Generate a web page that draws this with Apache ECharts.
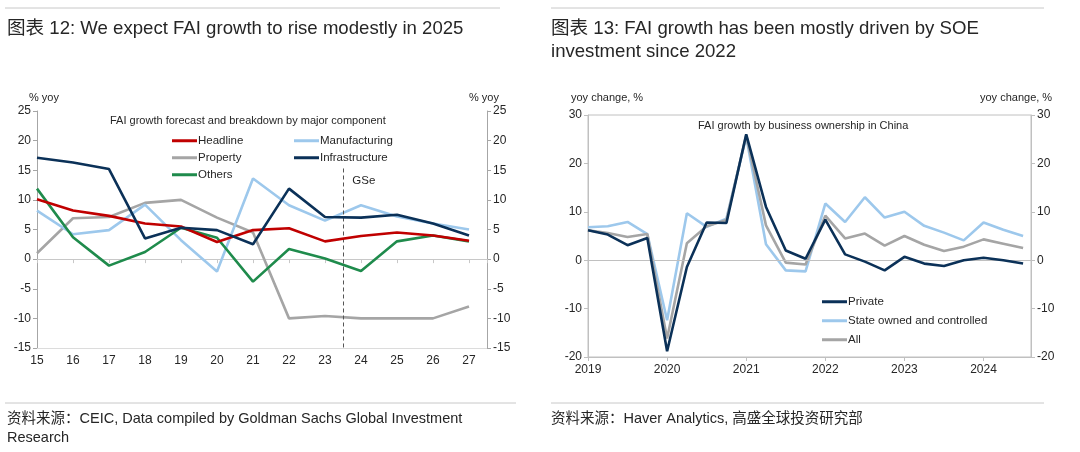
<!DOCTYPE html>
<html><head><meta charset="utf-8">
<script src="https://cdn.jsdelivr.net/npm/echarts@6/dist/echarts.min.js"></script>
<style>html,body{margin:0;padding:0;background:#fff}#c{width:1080px;height:452px}</style>
</head><body><div id="c"></div>
<script>
// ---- Left chart data (annual, 2015-2027, GSe from 2024) ----
const leftYears = [15,16,17,18,19,20,21,22,23,24,25,26,27];
const headline       = [10.1, 8.2, 7.3, 6.0, 5.5, 2.9, 4.9, 5.2, 3.0, 3.9, 4.5, 4.0, 3.1];
const manufacturing  = [8.2, 4.2, 4.9, 9.2, 3.2, -2.1, 13.6, 9.1, 6.5, 9.1, 7.2, 6.0, 5.0];
const property       = [1.0, 6.9, 7.1, 9.5, 10.0, 7.0, 4.5, -10.0, -9.6, -10.0, -10.0, -10.0, -8.0];
const infrastructure = [17.1, 16.3, 15.2, 3.5, 5.3, 4.9, 2.5, 11.9, 7.1, 7.0, 7.5, 6.0, 4.0];
const others         = [11.9, 3.7, -1.1, 1.2, 5.3, 3.6, -3.8, 1.7, 0.1, -2.0, 3.0, 4.0, 3.0];
const forecastStart = 23.5;

// ---- Right chart data (quarterly, 2019Q1 - 2024Q3) ----
const quarterIndex = Array.from({length: 23}, (_, i) => i); // 0 = 2019Q1
const privateInv = [6.2, 5.3, 3.1, 4.6, -18.8, -1.4, 7.8, 7.7, 26.0, 11.0, 2.0, 0.3, 8.4, 1.2, -0.3, -2.1, 0.7, -0.7, -1.2, 0.0, 0.5, 0.0, -0.7];
const stateInv   = [6.8, 7.0, 7.9, 5.4, -12.4, 9.7, 6.9, 8.6, 25.5, 3.3, -2.1, -2.3, 11.7, 7.9, 13.0, 8.8, 10.0, 7.1, 5.7, 4.1, 7.8, 6.3, 5.0];
const allInv     = [6.2, 5.6, 4.8, 5.4, -16.2, 3.5, 7.0, 8.3, 25.8, 7.2, -0.5, -0.9, 9.2, 4.5, 5.5, 3.0, 5.0, 3.2, 1.9, 2.8, 4.3, 3.4, 2.5];
const firstYear = 2019;

const pair = (xs, ys) => xs.map((x, i) => [x, ys[i]]);

const FONT = 'Liberation Sans, Arial, "Noto Sans CJK SC", sans-serif';
const TXT = '#262626';
const AX = '#a6a6a6';
const C = {red:'#c00000', lblue:'#9dc8ec', gray:'#a5a5a5', navy:'#0b3158', green:'#1f8b4c'};

const chart = echarts.init(document.getElementById('c'));

function txt(x, y, s, size, extra) {
  return Object.assign({type:'text', left:x, top:y, style:{text:s, fill:TXT, font: size + 'px ' + FONT}}, extra || {});
}
function hline(x1, x2, y) {
  return {type:'line', shape:{x1:x1, y1:y, x2:x2, y2:y}, style:{stroke:'#c8c8c8', lineWidth:1}};
}

const lineSeries = (name, data, color, xi, yi, z) => ({
  name, type:'line', data, xAxisIndex:xi, yAxisIndex:yi, symbol:'none',
  lineStyle:{color, width:2.6}, itemStyle:{color}, z: z || 2, animation:false
});

const legendText = {fontSize:11.5, color:TXT, padding:[0,0,0,-4]};

chart.setOption({
  animation:false,
  textStyle:{fontFamily:FONT},
  graphic:[
    hline(5, 500, 8), hline(551, 1044, 8),
    txt(7, 20, '图表 12: We expect FAI growth to rise modestly in 2025', 18.6),
    txt(551, 20, '图表 13: FAI growth has been mostly driven by SOE', 18.6),
    txt(551, 43, 'investment since 2022', 18.6),
    txt(29, 92, '% yoy', 11), txt(469, 92, '% yoy', 11),
    txt(571, 92, 'yoy change, %', 11), txt(980, 92, 'yoy change, %', 11),
    txt(110, 115, 'FAI growth forecast and breakdown by major component', 11),
    txt(698, 120, 'FAI growth by business ownership in China', 11),
    hline(5, 516, 403), hline(551, 1044, 403),
    txt(7, 412, '资料来源：CEIC, Data compiled by Goldman Sachs Global Investment', 14.5),
    txt(7, 431, 'Research', 14.5),
    txt(551, 412, '资料来源：Haver Analytics, 高盛全球投资研究部', 14.5)
  ],
  legend:[
    {data:['Headline','Property','Others'], orient:'vertical', left:167, top:130, itemGap:5.5,
     icon:'rect', itemWidth:25, itemHeight:3, textStyle:legendText},
    {data:['Manufacturing','Infrastructure'], orient:'vertical', left:289, top:130, itemGap:5.5,
     icon:'rect', itemWidth:25, itemHeight:3, textStyle:legendText},
    {data:['Private','State owned and controlled','All'], orient:'vertical', left:817, top:291, itemGap:7.5,
     icon:'rect', itemWidth:25, itemHeight:3, textStyle:legendText}
  ],
  grid:[
    {left:37, right:593, top:111, bottom:104},
    {left:588, right:49, top:115, bottom:95, show:true, borderColor:'#c0c0c0', borderWidth:1}
  ],
  xAxis:[
    {type:'value', gridIndex:0, min:15, max:27.5, interval:1, position:'bottom',
     axisLine:{show:true, onZero:false, lineStyle:{color:'#dcdcdc'}}, axisTick:{show:false}, splitLine:{show:false},
     axisLabel:{color:TXT, fontSize:12, margin:7, showMaxLabel:false,
       formatter: v => Number.isInteger(v) ? String(v) : ''}},
    {type:'value', gridIndex:0, min:15, max:27.5, interval:1, position:'top',
     axisLine:{show:true, onZero:true, lineStyle:{color:'#c8c8c8'}},
     axisTick:{show:true, inside:true, length:4, lineStyle:{color:'#c8c8c8'}},
     axisLabel:{show:false}, splitLine:{show:false}},
    {type:'value', gridIndex:1, min:0, max:22.4, interval:4, position:'bottom',
     axisLine:{show:true, onZero:false, lineStyle:{color:'#c0c0c0'}},
     axisTick:{show:true, length:4, lineStyle:{color:'#c0c0c0'}}, splitLine:{show:false},
     axisLabel:{color:TXT, fontSize:12, margin:7, showMaxLabel:false,
       formatter: v => Number.isInteger(v / 4) ? String(firstYear + v / 4) : ''}}
  ],
  yAxis:[
    {type:'value', gridIndex:0, min:-15, max:25, interval:5, position:'left',
     axisLine:{show:true, onZero:false, lineStyle:{color:AX}}, axisTick:{show:true, length:4, lineStyle:{color:AX}},
     splitLine:{show:false}, axisLabel:{color:TXT, fontSize:12, margin:6}},
    {type:'value', gridIndex:0, min:-15, max:25, interval:5, position:'right',
     axisLine:{show:true, onZero:false, lineStyle:{color:AX}}, axisTick:{show:true, length:4, lineStyle:{color:AX}},
     splitLine:{show:false}, axisLabel:{color:TXT, fontSize:12, margin:6}},
    {type:'value', gridIndex:1, min:-20, max:30, interval:10, position:'left',
     axisLine:{show:true, onZero:false, lineStyle:{color:'#c0c0c0'}}, axisTick:{show:true, length:4, lineStyle:{color:'#c0c0c0'}},
     splitLine:{show:false}, axisLabel:{color:TXT, fontSize:12, margin:6}},
    {type:'value', gridIndex:1, min:-20, max:30, interval:10, position:'right',
     axisLine:{show:true, onZero:false, lineStyle:{color:'#c0c0c0'}}, axisTick:{show:true, length:4, lineStyle:{color:'#c0c0c0'}},
     splitLine:{show:false}, axisLabel:{color:TXT, fontSize:12, margin:6}}
  ],
  series:[
    Object.assign(lineSeries('Property', pair(leftYears, property), C.gray, 0, 0, 2), {
      markLine:{silent:true, symbol:'none', label:{show:false},
        lineStyle:{color:'#555', type:[4,3], width:1},
        data:[[{coord:[forecastStart, 15.3]}, {coord:[forecastStart, -15]}]]},
      markPoint:{silent:true, symbol:'rect', symbolSize:0,
        label:{show:true, formatter:'GSe', color:TXT, fontSize:11.5, position:'inside'},
        data:[{coord:[24.08, 13.2], value:'GSe'}]}
    }),
    lineSeries('Manufacturing', pair(leftYears, manufacturing), C.lblue, 0, 0, 3),
    lineSeries('Others', pair(leftYears, others), C.green, 0, 0, 4),
    lineSeries('Headline', pair(leftYears, headline), C.red, 0, 0, 5),
    lineSeries('Infrastructure', pair(leftYears, infrastructure), C.navy, 0, 0, 6),

    Object.assign(lineSeries('State owned and controlled', pair(quarterIndex, stateInv), C.lblue, 2, 2, 3), {
      markLine:{silent:true, symbol:'none', label:{show:false},
        lineStyle:{color:'#c0c0c0', type:'solid', width:1}, data:[{yAxis:0}]}
    }),
    lineSeries('All', pair(quarterIndex, allInv), C.gray, 2, 2, 4),
    lineSeries('Private', pair(quarterIndex, privateInv), C.navy, 2, 2, 5)
  ]
});
</script></body></html>
